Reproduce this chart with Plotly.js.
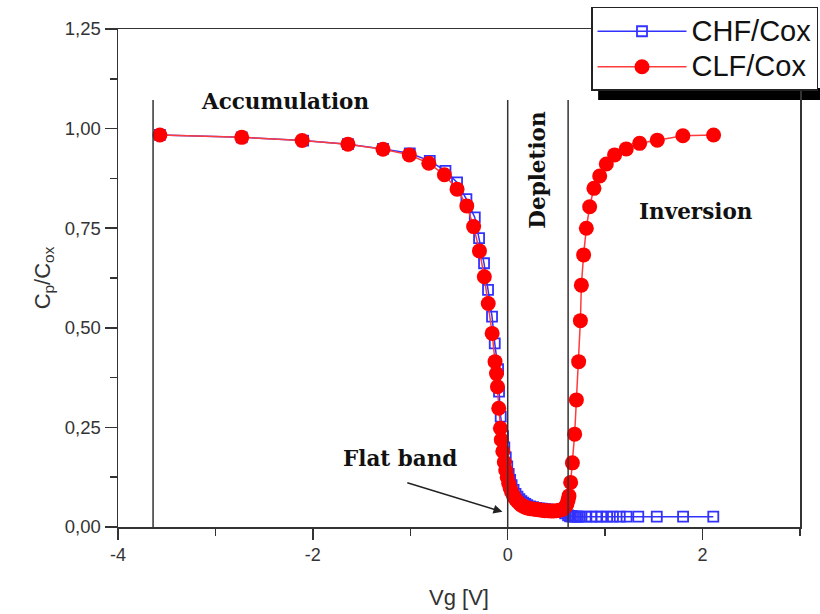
<!DOCTYPE html>
<html>
<head>
<meta charset="utf-8">
<script src="https://cdn.plot.ly/plotly-3.0.1.min.js"></script>
<style>
html,body{margin:0;padding:0;background:#fff;}
#chart{width:820px;height:614px;}
</style>
</head>
<body>
<div id="chart"></div>
<script>
// CHF/Cox (blue open squares)
const chfV = [-3.57,-2.73,-2.10,-1.64,-1.28,-1.005,-0.80,-0.639,-0.52,-0.424,-0.338,-0.294,-0.243,-0.202,-0.161,-0.133,-0.099,-0.089,-0.072,-0.048,
  -0.035,-0.02,-0.005,0.01,0.025,0.04,0.06,0.08,0.10,0.12,0.14,0.16,0.18,0.20,0.23,0.26,0.29,0.32,0.35,0.38,0.41,0.44,0.47,0.50,0.53,0.56,0.59,0.62,
  0.64,0.66,0.68,0.70,0.72,0.74,0.80,0.86,0.91,0.96,1.02,1.08,1.15,1.22,1.34,1.53,1.80,2.11];
const chfC = [0.984,0.978,0.970,0.961,0.949,0.938,0.919,0.894,0.865,0.823,0.777,0.725,0.662,0.595,0.528,0.461,0.396,0.340,0.277,0.228,
  0.200,0.175,0.152,0.133,0.118,0.105,0.093,0.083,0.076,0.070,0.065,0.061,0.058,0.055,0.052,0.050,0.048,0.047,0.046,0.045,0.044,0.043,0.042,0.041,0.040,0.038,0.034,0.029,
  0.027,0.027,0.026,0.026,0.026,0.026,0.026,0.026,0.026,0.026,0.026,0.026,0.026,0.026,0.026,0.026,0.026,0.026];

// CLF/Cox (red filled circles)
const clfV = [-3.57,-2.73,-2.11,-1.64,-1.28,-1.01,-0.81,-0.65,-0.52,-0.42,-0.35,-0.29,-0.24,-0.20,-0.16,-0.13,-0.115,-0.105,-0.092,-0.075,-0.066,
  -0.05,-0.035,-0.02,-0.005,0.01,0.025,0.04,0.06,0.08,0.10,0.12,0.14,0.16,0.18,0.20,0.23,0.26,0.29,0.32,0.35,0.38,0.41,0.44,0.47,0.50,0.53,0.56,0.58,0.595,0.608,0.62,
  0.629,0.646,0.664,0.687,0.705,0.728,0.746,0.756,0.779,0.807,0.841,0.885,0.944,1.012,1.097,1.217,1.354,1.535,1.798,2.113];
const clfC = [0.984,0.978,0.970,0.961,0.948,0.934,0.913,0.884,0.848,0.806,0.754,0.693,0.628,0.561,0.486,0.415,0.385,0.352,0.298,0.248,0.219,
  0.190,0.163,0.142,0.125,0.110,0.098,0.088,0.078,0.070,0.064,0.059,0.055,0.052,0.050,0.048,0.046,0.045,0.044,0.043,0.042,0.041,0.041,0.040,0.040,0.041,0.042,0.044,0.047,0.052,0.058,0.068,
  0.078,0.112,0.161,0.233,0.319,0.415,0.518,0.607,0.683,0.750,0.804,0.850,0.881,0.911,0.934,0.949,0.963,0.971,0.982,0.984];

const seriesNames = ['CHF/Cox', 'CLF/Cox'];

// axis ticks
const xTickVals = [-4, -2, 0, 2];
const xTickText = ['-4', '-2', '0', '2'];

// region boundaries (V) and their top (C)
const boundaryV = [-3.64, 0, 0.62];
const boundaryTop = 1.072;

// region labels
const regionNames = ['Accumulation','Depletion','Inversion','Flat band'];
const regionV = [-2.287, 0.297, 1.928, -1.108];
const regionC = [1.067, 0.896, 0.791, 0.173];
const regionAngle = [0, -90, 0, 0];

// flat band arrow: [tail, head]
const arrowV = [-1.046, -0.054];
const arrowC = [0.112, 0.038];

const serif = 'DejaVu Serif';
const sans = 'Liberation Sans, Arial, sans-serif';
const legName = s => '<span style="font-size:29px">' + s + '</span>';

const traces = [
  {x: chfV, y: chfC, name: legName(seriesNames[0]), type: 'scatter', mode: 'lines+markers',
   line: {color: 'rgb(50,50,255)', width: 1.5},
   marker: {symbol: 'square-open', size: 10, color: 'rgb(50,50,255)', line: {width: 1.8}}},
  {x: clfV, y: clfC, name: legName(seriesNames[1]), type: 'scatter', mode: 'lines+markers',
   line: {color: 'rgb(255,60,60)', width: 1.5},
   marker: {symbol: 'circle', size: 15, color: 'rgb(255,0,0)'}}
];

const shapes = boundaryV.map(v => ({
  type: 'line', xref: 'x', yref: 'y', x0: v, x1: v, y0: 0, y1: boundaryTop,
  line: {color: '#333', width: 1.5}, layer: 'above'
}));
// legend drop shadow
shapes.push({type: 'rect', xref: 'paper', yref: 'paper', x0: 0.704, x1: 1.04, y0: 0.8574, y1: 0.8815,
  fillcolor: '#000', line: {width: 0}, layer: 'below'});

const annotations = regionNames.map((t, i) => ({
  x: regionV[i], y: regionC[i], xref: 'x', yref: 'y', text: '<b>' + t + '</b>',
  showarrow: false, textangle: regionAngle[i],
  font: {family: serif, size: 21.5, color: '#111'}
}));
annotations.push({
  x: arrowV[1], y: arrowC[1], ax: arrowV[0], ay: arrowC[0], xref: 'x', yref: 'y', axref: 'x', ayref: 'y',
  text: '', showarrow: true, arrowhead: 2, arrowsize: 1.2, arrowwidth: 1.5, arrowcolor: '#222'
});

const layout = {
  width: 820, height: 614,
  margin: {l: 118, r: 20, t: 29, b: 87, autoexpand: false},
  paper_bgcolor: '#fff', plot_bgcolor: '#fff',
  separators: ',.',
  font: {family: sans, color: '#333'},
  showlegend: true,
  legend: {xref: 'paper', yref: 'paper', x: 1.0264, xanchor: 'right', y: 1.0442, yanchor: 'top',
    bgcolor: '#fff', bordercolor: '#222', borderwidth: 1.5,
    font: {family: sans, size: 25, color: '#111'}, itemwidth: 89, tracegroupgap: 0},
  xaxis: {range: [-4, 3], tickvals: xTickVals, ticktext: xTickText, ticks: 'outside', ticklen: 11, tickwidth: 1.5, tickcolor: '#333',
    minor: {dtick: 1, ticks: 'outside', ticklen: 7, tickwidth: 1.5, tickcolor: '#333'},
    showline: true, linecolor: '#333', linewidth: 1.5, mirror: true, showgrid: false, zeroline: false,
    tickfont: {size: 18, color: '#333'},
    title: {text: 'Vg [V]', font: {size: 22, color: '#333'}, standoff: 25}},
  yaxis: {range: [0, 1.25], dtick: 0.25, tick0: 0, tickformat: '.2f', ticks: 'outside', ticklen: 12, tickwidth: 1.5, tickcolor: '#333',
    minor: {dtick: 0.125, ticks: 'outside', ticklen: 7, tickwidth: 1.5, tickcolor: '#333'},
    showline: true, linecolor: '#333', linewidth: 1.5, mirror: true, showgrid: false, zeroline: false,
    tickfont: {size: 18.5, color: '#333'},
    title: {text: 'C<sub>p</sub>/C<sub>ox</sub>', font: {size: 22, color: '#333'}, standoff: 8}},
  shapes: shapes,
  annotations: annotations
};

Plotly.newPlot('chart', traces, layout, {displayModeBar: false, staticPlot: true});
</script>
</body>
</html>
